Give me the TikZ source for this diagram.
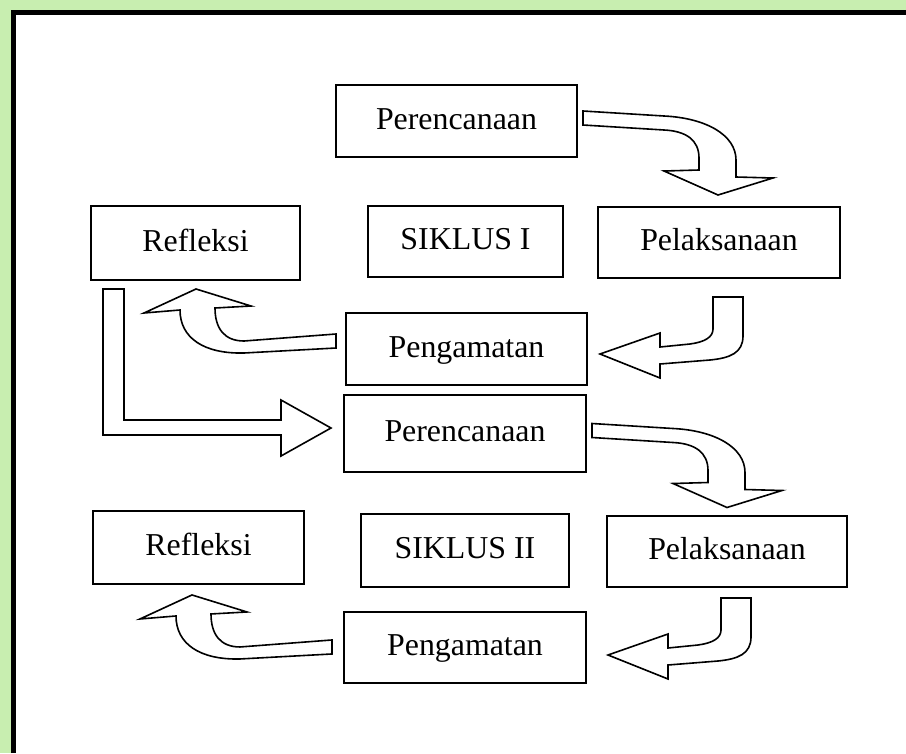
\documentclass[tikz,border=0pt]{standalone}
\usepackage{fontspec}
\setmainfont{Liberation Serif}
\definecolor{bggreen}{RGB}{200,238,176}
\newcommand{\bendpath}{(5,-10) -- (86,-5) .. controls (128,-3) and (158,14) .. (158,39) -- (158,56) -- (195,57) -- (140,74) -- (86,50) -- (121,49) -- (121,37) .. controls (121,19) and (108,10) .. (86,9) -- (5,4) -- cycle}
\newcommand{\hookpath}{(24,18) -- (24,57) .. controls (24,74) and (11,79) .. (-9,81) -- (-59,85) -- (-59,99) -- (-119,75) -- (-59,54) -- (-59,68) -- (-29,65) .. controls (-14,63) and (-6,58) .. (-6,50) -- (-6,18) -- cycle}
\newcommand{\returnpath}{(-9,-15) -- (-101,-8) .. controls (-121,-8) and (-130,-21) .. (-130,-41) -- (-94,-43) -- (-149,-60) -- (-201,-36) -- (-165,-39) .. controls (-165,-11) and (-141,5) .. (-101,4) -- (-9,-1) -- cycle}
\newcommand{\cornerpath}{(13,8) -- (34,8) -- (34,139) -- (191,139) -- (191,119) -- (241,147) -- (191,175) -- (191,154) -- (13,154) -- cycle}
\begin{document}
\begin{tikzpicture}[x=0.75pt, y=-0.75pt,
    box/.style={draw, line width=1.5pt, fill=white, inner sep=0pt,
        font=\fontsize{23.9}{28}\selectfont, text height=16pt, text depth=4pt},
    hollow/.style={draw, fill=white, line width=1.2pt, line join=miter}]
    \useasboundingbox (0,0) rectangle (906,753);
    \fill[bggreen] (0,0) rectangle (906,753);
    \fill[white] (13,12.5) rectangle (906,753);
    \draw[line width=3.75pt] (13,753) -- (13,12.5) -- (906,12.5);
    \node[box, minimum width=180.75pt, minimum height=54pt] (plan1) at (456.5,121) {Perencanaan};
    \node[box, minimum width=156.75pt, minimum height=55.5pt] (refl1) at (195.5,243) {Refleksi};
    \node[box, minimum width=146.25pt, minimum height=53.25pt] (cyc1) at (465.5,241.5) {SIKLUS I};
    \node[box, minimum width=181.5pt, minimum height=53.25pt] (exec1) at (719,242.5) {Pelaksanaan};
    \node[box, minimum width=180.75pt, minimum height=54pt] (obs1) at (466.5,349) {Pengamatan};
    \node[box, minimum width=181.5pt, minimum height=57.75pt] (plan2) at (465,433.5) {Perencanaan};
    \node[box, minimum width=158.25pt, minimum height=54.75pt] (refl2) at (198.5,547.5) {Refleksi};
    \node[box, minimum width=156pt, minimum height=54.75pt] (cyc2) at (465,550.5) {SIKLUS II};
    \node[box, minimum width=180pt, minimum height=53.25pt] (exec2) at (727,551.5) {Pelaksanaan};
    \node[box, minimum width=181.5pt, minimum height=53.25pt] (obs2) at (465,647.5) {Pengamatan};
    \draw[hollow, shift={(plan1.east)}] \bendpath;
    \draw[hollow, shift={(exec1.south)}] \hookpath;
    \draw[hollow, shift={(obs1.west)}] \returnpath;
    \draw[hollow, shift={(refl1.south west)}] \cornerpath;
    \draw[hollow, shift={(plan2.east)}] \bendpath;
    \draw[hollow, shift={(exec2.south)}, yshift=6pt] \hookpath;
    \draw[hollow, shift={(obs2.west)}, xshift=-1.5pt, yshift=-5.6pt] \returnpath;
\end{tikzpicture}
\end{document}
